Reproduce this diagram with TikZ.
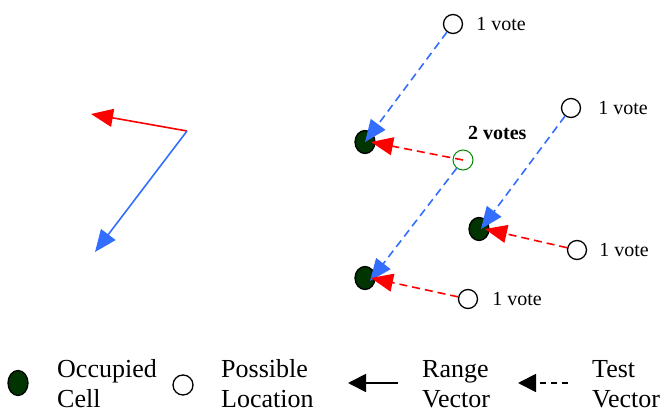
\documentclass[tikz,border=0pt]{standalone}
\usepackage{fontspec}
\setmainfont{Liberation Serif}
\usepackage{tikz}
\usetikzlibrary{positioning, shapes.geometric, arrows.meta}
\definecolor{cellgreen}{RGB}{0,52,0}
\definecolor{vecblue}{RGB}{51,110,255}
\definecolor{vecred}{RGB}{255,0,0}
\definecolor{hitgreen}{RGB}{0,140,0}
\tikzset{
  loc/.style={circle, draw, line width=1.3pt, minimum size=19pt, inner sep=0pt},
  cell/.style={ellipse, draw, fill=cellgreen, line width=1.3pt, minimum width=20pt, minimum height=23pt, inner sep=0pt},
  votelabel/.style={font=\fontsize{20}{23}\selectfont, inner sep=0pt, anchor=west},
  legendtext/.style={font=\fontsize{26}{30}\selectfont, align=left, inner sep=0pt, anchor=west},
  bigtip/.style={-{Triangle[length=22pt,width=18pt]}},
  rangevec/.style={vecred, line width=1.6pt, bigtip},
  testvec/.style={vecblue, line width=1.6pt, bigtip},
  dashvec/.style={dash pattern=on 8pt off 5pt},
}
\begin{document}
\begin{tikzpicture}[x=1pt, y=-1pt]
\useasboundingbox (0,0) rectangle (669,414);
% the two vectors
\coordinate (o) at (187,131);
\coordinate (rtip) at (91,114);
\coordinate (ttip) at (95,252);
\draw[rangevec] (o) -- (rtip);
\draw[testvec] (o) -- (ttip);

% occupied cells
\node[cell] (occ1) at (365,142) {};
\node[cell] (occ2) at (479,229) {};
\node[cell] (occ3) at (365,278) {};

% possible locations
\node[loc] (loc1) at (453,24) {};
\node[loc] (loc2) at (571,108) {};
\node[loc] (loc3) at (577,250) {};
\node[loc] (loc4) at (468,299) {};
\node[loc, draw=hitgreen, line width=1pt, minimum size=20pt] (hit) at (463,160) {};

\node[votelabel, right=13pt of loc1] (v1) {1 vote};
\node[votelabel, right=17pt of loc2] (v2) {1 vote};
\node[votelabel, right=12pt of loc3] (v3) {1 vote};
\node[votelabel, right=14pt of loc4] (v4) {1 vote};
\node[votelabel, font=\fontsize{20}{23}\selectfont\bfseries] (vhit) at (468,133) {2 votes};

% votes
\draw[testvec, dashvec] (loc1) -- (occ1.center);
\draw[rangevec, dashvec] (hit.center) -- ([xshift=6pt]occ1.center);
\draw[testvec, dashvec] (hit) -- ([xshift=5pt,yshift=-3pt]occ3.center);
\draw[rangevec, dashvec] (loc4) -- ([xshift=6pt]occ3.center);
\draw[testvec, dashvec] (loc2) -- ([xshift=2pt]occ2.center);
\draw[rangevec, dashvec] (loc3) -- ([xshift=6pt]occ2.center);

% legend
\node[cell, minimum width=20pt, minimum height=25pt] (kcell) at (18,383) {};
\node[legendtext] (kcelltxt) at (57,384) {Occupied\\Cell};
\node[loc, minimum size=20pt] (kloc) at (183,385) {};
\node[legendtext] (kloctxt) at (221,384) {Possible\\Location};
\coordinate (kr1) at (398,383);
\coordinate (kr2) at (348,383);
\draw[line width=1.8pt, -{Triangle[length=18pt,width=18pt]}] (kr1) -- (kr2);
\node[legendtext] (krtxt) at (422,384) {Range\\Vector};
\coordinate (kt1) at (568,383);
\coordinate (kt2) at (518,383);
\draw[line width=1.8pt, dash pattern=on 6pt off 5pt, -{Triangle[length=18pt,width=18pt]}] (kt1) -- (kt2);
\node[legendtext] (kttxt) at (592,384) {Test\\Vector};
\end{tikzpicture}
\end{document}
